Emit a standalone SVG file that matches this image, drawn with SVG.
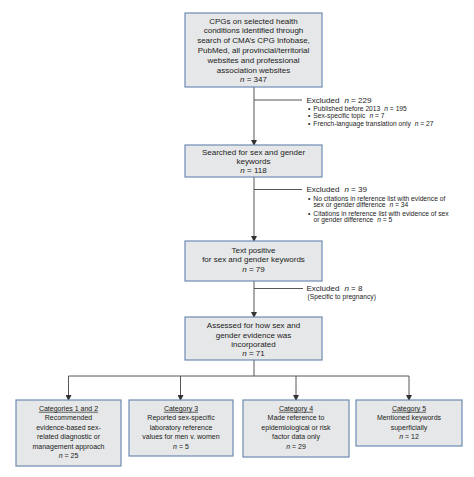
<svg xmlns="http://www.w3.org/2000/svg" width="474" height="477" viewBox="0 0 474 477">
<defs>
<marker id="arr" markerWidth="6" markerHeight="6" refX="5" refY="3" orient="auto" markerUnits="userSpaceOnUse">
<path d="M0,0 L6,3 L0,6 Z" fill="#333"/>
</marker>
<style>
.box{fill:#e6e7e8;stroke:#6d8cb3;stroke-width:1.2}
.t{font-family:"Liberation Sans",Arial,sans-serif;font-size:8px;fill:#222;text-anchor:middle}
.c{font-family:"Liberation Sans",Arial,sans-serif;font-size:7px;fill:#222;text-anchor:middle}
.x{font-family:"Liberation Sans",Arial,sans-serif;font-size:8px;fill:#222}
.b{font-family:"Liberation Sans",Arial,sans-serif;font-size:6.7px;fill:#222}
.ln{stroke:#444;stroke-width:0.9;fill:none}
.i{font-style:italic}
.u{text-decoration:underline}
</style>
</defs>
<rect width="474" height="477" fill="#fff"/>
<g id="connectors">
<line class="ln" x1="254" y1="87" x2="254" y2="145" marker-end="url(#arr)"/>
<line class="ln" x1="254" y1="100" x2="302" y2="100"/>
<line class="ln" x1="254" y1="177" x2="254" y2="241" marker-end="url(#arr)"/>
<line class="ln" x1="254" y1="189.5" x2="302" y2="189.5"/>
<line class="ln" x1="254" y1="281" x2="254" y2="317" marker-end="url(#arr)"/>
<line class="ln" x1="254" y1="288.5" x2="303" y2="288.5"/>
<line class="ln" x1="254" y1="360" x2="254" y2="376"/>
<line class="ln" x1="68.5" y1="376" x2="409" y2="376"/>
<line class="ln" x1="68.5" y1="376" x2="68.5" y2="400" marker-end="url(#arr)"/>
<line class="ln" x1="180.5" y1="376" x2="180.5" y2="400" marker-end="url(#arr)"/>
<line class="ln" x1="296" y1="376" x2="296" y2="400" marker-end="url(#arr)"/>
<line class="ln" x1="409" y1="376" x2="409" y2="400" marker-end="url(#arr)"/>
</g>
<g id="n1">
<rect class="box" x="185" y="13" width="137" height="74"/>
<text class="t" x="253.5" y="23.6">CPGs on selected health</text>
<text class="t" x="253.5" y="33.4">conditions identified through</text>
<text class="t" x="253.5" y="43.2">search of CMA’s CPG Infobase,</text>
<text class="t" x="253.5" y="53">PubMed, all provincial/territorial</text>
<text class="t" x="253.5" y="62.8">websites and professional</text>
<text class="t" x="253.5" y="72.6">association websites</text>
<text class="t" x="253.5" y="82.4"><tspan class="i">n</tspan> = 347</text>
</g>
<g id="ex1">
<text class="x" x="306.5" y="102.5">Excluded<tspan class="i" dx="5">n</tspan> = 229</text>
<text class="b" x="308" y="110.5">•<tspan dx="3">Published before 2013</tspan><tspan class="i" dx="4">n</tspan> = 195</text>
<text class="b" x="308" y="118.3">•<tspan dx="3">Sex-specific topic</tspan><tspan class="i" dx="4">n</tspan> = 7</text>
<text class="b" x="308" y="126">•<tspan dx="3">French-language translation only</tspan><tspan class="i" dx="4">n</tspan> = 27</text>
</g>
<g id="n2">
<rect class="box" x="185" y="145" width="137" height="32"/>
<text class="t" x="253.5" y="154.8">Searched for sex and gender</text>
<text class="t" x="253.5" y="164">keywords</text>
<text class="t" x="253.5" y="173.2"><tspan class="i">n</tspan> = 118</text>
</g>
<g id="ex2">
<text class="x" x="306.5" y="192">Excluded<tspan class="i" dx="5">n</tspan> = 39</text>
<text class="b" x="308" y="200.7">•<tspan dx="3">No citations in reference list with evidence of</tspan></text>
<text class="b" x="313.5" y="207.4">sex or gender difference<tspan class="i" dx="4">n</tspan> = 34</text>
<text class="b" x="308" y="215.7">•<tspan dx="3">Citations in reference list with evidence of sex</tspan></text>
<text class="b" x="313.5" y="222.4">or gender difference<tspan class="i" dx="4">n</tspan> = 5</text>
</g>
<g id="n3">
<rect class="box" x="185" y="241" width="137" height="40"/>
<text class="t" x="253.5" y="253">Text positive</text>
<text class="t" x="253.5" y="262.3">for sex and gender keywords</text>
<text class="t" x="253.5" y="271.6"><tspan class="i">n</tspan> = 79</text>
</g>
<g id="ex3">
<text class="x" x="306.5" y="291">Excluded<tspan class="i" dx="5">n</tspan> = 8</text>
<text class="b" x="307.5" y="298.5">(Specific to pregnancy)</text>
</g>
<g id="n4">
<rect class="box" x="185" y="317" width="137" height="43"/>
<text class="t" x="253.5" y="328.4">Assessed for how sex and</text>
<text class="t" x="253.5" y="337.6">gender evidence was</text>
<text class="t" x="253.5" y="346.8">incorporated</text>
<text class="t" x="253.5" y="356"><tspan class="i">n</tspan> = 71</text>
</g>
<g id="c12">
<rect class="box" x="16" y="400" width="105" height="66"/>
<text class="c u" x="68.5" y="410.8">Categories 1 and 2</text>
<text class="c" x="68.5" y="420.3">Recommended</text>
<text class="c" x="68.5" y="429.8">evidence-based sex-</text>
<text class="c" x="68.5" y="439.3">related diagnostic or</text>
<text class="c" x="68.5" y="448.8">management approach</text>
<text class="c" x="68.5" y="458.3"><tspan class="i">n</tspan> = 25</text>
</g>
<g id="c3">
<rect class="box" x="129" y="400" width="104" height="56"/>
<text class="c u" x="181" y="410.8">Category 3</text>
<text class="c" x="181" y="420.3">Reported sex-specific</text>
<text class="c" x="181" y="429.8">laboratory reference</text>
<text class="c" x="181" y="439.3">values for men v. women</text>
<text class="c" x="181" y="448.8"><tspan class="i">n</tspan> = 5</text>
</g>
<g id="c4">
<rect class="box" x="243" y="400" width="106" height="57"/>
<text class="c u" x="296" y="410.8">Category 4</text>
<text class="c" x="296" y="420.3">Made reference to</text>
<text class="c" x="296" y="429.8">epidemiological or risk</text>
<text class="c" x="296" y="439.3">factor data only</text>
<text class="c" x="296" y="448.8"><tspan class="i">n</tspan> = 29</text>
</g>
<g id="c5">
<rect class="box" x="356" y="400" width="106" height="46"/>
<text class="c u" x="409" y="410.8">Category 5</text>
<text class="c" x="409" y="420.3">Mentioned keywords</text>
<text class="c" x="409" y="429.8">superficially</text>
<text class="c" x="409" y="439.3"><tspan class="i">n</tspan> = 12</text>
</g>
</svg>
